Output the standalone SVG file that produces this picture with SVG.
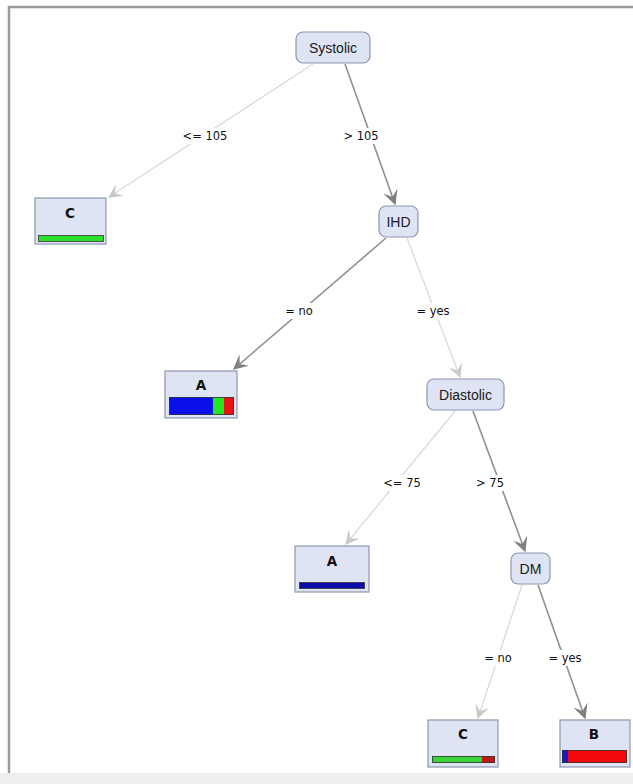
<svg xmlns="http://www.w3.org/2000/svg" width="633" height="784" viewBox="0 0 633 784">
<defs>
<style>
.inner{fill:#dfe4f4;stroke:#8c96ad;stroke-width:1.2}
.leaf{fill:#dfe4f4;stroke:#8c96ad;stroke-width:1.2}
.nt{font-family:"Liberation Sans",Arial,sans-serif;font-size:14px;fill:#1a1a1a;text-anchor:middle}
.lt{font-family:"DejaVu Sans",Verdana,sans-serif;font-size:13.5px;font-weight:bold;fill:#111;text-anchor:middle}
.el{font-family:"DejaVu Sans",Verdana,sans-serif;font-size:11.5px;fill:#111;text-anchor:middle}
.lbg{fill:#ffffff}
.ea{stroke:#d8d8d8;stroke-width:1.2;fill:none;marker-end:url(#al)}
.eb{stroke:#909090;stroke-width:1.6;fill:none;marker-end:url(#ad)}
.bar{stroke:#333;stroke-width:0.8}
</style>
<marker id="al" viewBox="0 0 12 12" refX="11" refY="6" markerWidth="14" markerHeight="14" markerUnits="userSpaceOnUse" orient="auto">
<path d="M0,0 L12,6 L0,12 L5,6 Z" fill="#c8c8c8"/>
</marker>
<marker id="ad" viewBox="0 0 12 12" refX="11" refY="6" markerWidth="15" markerHeight="15" markerUnits="userSpaceOnUse" orient="auto">
<path d="M0,0 L12,6 L0,12 L5,6 Z" fill="#808080"/>
</marker>
</defs>
<rect x="0" y="0" width="633" height="784" fill="#ffffff"/>
<rect x="0" y="773" width="633" height="11" fill="#eeeeee"/>
<path d="M9,773 L9,7 L640,7" fill="none" stroke="#9a9a9a" stroke-width="2.5"/>
<g id="connectors">
<line class="ea" x1="313" y1="64" x2="109" y2="197"/>
<line class="eb" x1="345" y1="64" x2="395" y2="204"/>
<line class="eb" x1="386" y1="238" x2="234" y2="369"/>
<line class="ea" x1="407" y1="238" x2="460" y2="377"/>
<line class="ea" x1="455" y1="411" x2="346" y2="544"/>
<line class="eb" x1="473" y1="411" x2="525" y2="551"/>
<line class="ea" x1="522" y1="585" x2="478" y2="718"/>
<line class="eb" x1="538" y1="585" x2="585" y2="718"/>
<rect class="lbg" x="178" y="128" width="54" height="16"/>
<rect class="lbg" x="338" y="128" width="46" height="16"/>
<rect class="lbg" x="280" y="303" width="38" height="16"/>
<rect class="lbg" x="410" y="303" width="46" height="16"/>
<rect class="lbg" x="380" y="475" width="46" height="16"/>
<rect class="lbg" x="471" y="475" width="38" height="16"/>
<rect class="lbg" x="479" y="650" width="38" height="16"/>
<rect class="lbg" x="541" y="650" width="48" height="16"/>
<text class="el" x="205" y="140">&lt;= 105</text>
<text class="el" x="361" y="140">&gt; 105</text>
<text class="el" x="299" y="315">= no</text>
<text class="el" x="433" y="315">= yes</text>
<text class="el" x="402" y="487">&lt;= 75</text>
<text class="el" x="490" y="487">&gt; 75</text>
<text class="el" x="498" y="662">= no</text>
<text class="el" x="565" y="662">= yes</text>
</g>
<g id="systolic">
<rect class="inner" x="296" y="32" width="74" height="31" rx="7"/>
<text class="nt" x="333" y="53">Systolic</text>
</g>
<g id="leaf-c1">
<rect class="leaf" x="35" y="198" width="71" height="46"/>
<text class="lt" x="70" y="218">C</text>
<rect class="bar" x="38.5" y="235.5" width="65" height="6" fill="#2ee02e"/>
</g>
<g id="ihd">
<rect class="inner" x="379" y="206" width="39" height="31" rx="7"/>
<text class="nt" x="398.5" y="227">IHD</text>
</g>
<g id="leaf-a1">
<rect class="leaf" x="165" y="371" width="72" height="47"/>
<text class="lt" x="201" y="390">A</text>
<rect x="169" y="397" width="44" height="18" fill="#0a10e8"/>
<rect x="213" y="397" width="11" height="18" fill="#22e622"/>
<rect x="224" y="397" width="10" height="18" fill="#e8141a"/>
<rect x="169.5" y="397.5" width="64" height="17" fill="none" stroke="#333" stroke-width="0.8"/>
</g>
<g id="diastolic">
<rect class="inner" x="427" y="379" width="77" height="31" rx="7"/>
<text class="nt" x="465.5" y="400">Diastolic</text>
</g>
<g id="leaf-a2">
<rect class="leaf" x="295" y="546" width="74" height="46"/>
<text class="lt" x="332" y="566">A</text>
<rect class="bar" x="299.5" y="582.5" width="65" height="6" fill="#0a0aa8"/>
</g>
<g id="dm">
<rect class="inner" x="511" y="553" width="39" height="31" rx="7"/>
<text class="nt" x="530.5" y="574">DM</text>
</g>
<g id="leaf-c2">
<rect class="leaf" x="428" y="720" width="70" height="47"/>
<text class="lt" x="463" y="739">C</text>
<rect x="432" y="756" width="50" height="7" fill="#3ad43a"/>
<rect x="482" y="756" width="13" height="7" fill="#c01818"/>
<rect x="432.5" y="756.5" width="62" height="6" fill="none" stroke="#333" stroke-width="0.8"/>
</g>
<g id="leaf-b">
<rect class="leaf" x="560" y="720" width="70" height="47"/>
<text class="lt" x="594" y="739">B</text>
<rect x="562" y="750" width="6" height="13" fill="#1818c8"/>
<rect x="568" y="750" width="59" height="13" fill="#f20a0a"/>
<rect x="562.5" y="750.5" width="64" height="12" fill="none" stroke="#333" stroke-width="0.8"/>
</g>
</svg>
